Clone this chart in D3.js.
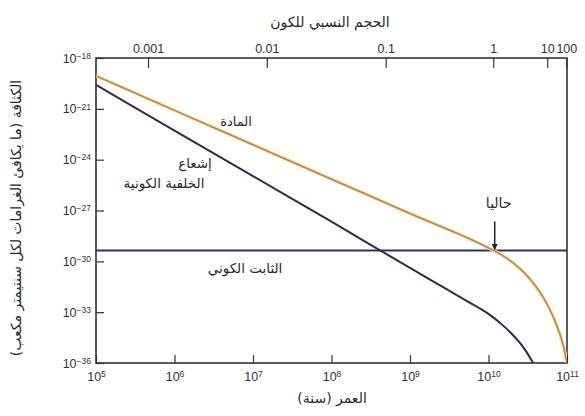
<!DOCTYPE html>
<html>
<head>
<meta charset="utf-8">
<script src="https://cdn.jsdelivr.net/npm/d3@7"></script>
<style>
  body { margin: 0; background: #fff; }
  .axis path { display: none; }
  .axis line { stroke: #333; stroke-width: 1.2; }
  .axis text { font-family: "Liberation Sans", Arial, sans-serif; font-size: 12.5px; fill: #333; }
  .ar { font-family: "DejaVu Sans", sans-serif; fill: #2a2a2a; }
</style>
</head>
<body>
<div id="chart"></div>
<script>
// Age of the universe (years) and density (g/cm3)
const matterAges = [1e5, 1e6, 1e7, 1e8, 1e9, 1e10, 1.5e10, 2e10, 3e10, 5e10, 7e10, 9e10, 1e11];
const matterDensity = [-19.06, -21.09, -23.12, -25.15, -27.18, -29.21, -29.65, -30.05, -30.78, -32.15, -33.5, -35.0, -36.0].map(e => Math.pow(10, e));

const radiationAges = [1e5, 1e6, 1e7, 1e8, 1e9, 3e9, 5e9, 1e10, 1.5e10, 2e10, 2.5e10, 3e10, 3.7e10];
const radiationDensity = [-19.59, -22.28, -24.97, -27.66, -30.39, -31.67, -32.27, -33.1, -33.75, -34.3, -34.8, -35.3, -36.0].map(e => Math.pow(10, e));

const lambdaDensity = 4.4e-30;
const nowAge = 1.2e10;

// Axis ticks
const ageTicks = [1e5, 1e6, 1e7, 1e8, 1e9, 1e10, 1e11];
const densityTicks = [1e-18, 1e-21, 1e-24, 1e-27, 1e-30, 1e-33, 1e-36];
const sizeLabels = ["0.001", "0.01", "0.1", "1", "10", "100"];
const sizeTickAges = [4.6e5, 1.5e7, 4.9e8, 1.15e10, 5.6e10, 9.8e10];

const width = 585, height = 416;
const margin = {top: 58, right: 18, bottom: 53, left: 96};

const svg = d3.select("#chart").append("svg")
    .attr("width", width)
    .attr("height", height);

const x = d3.scaleLog()
    .domain([1e5, 1e11])
    .range([margin.left, width - margin.right]);
const y = d3.scaleLog()
    .domain([1e-36, 1e-18])
    .range([height - margin.bottom, margin.top]);

svg.append("clipPath").attr("id", "plot-clip")
    .append("rect")
        .attr("x", margin.left)
        .attr("y", margin.top)
        .attr("width", width - margin.left - margin.right)
        .attr("height", height - margin.top - margin.bottom);

// Power-of-ten labels with superscripts
const powerLabel = function(d) {
    const e = Math.round(Math.log10(d));
    const t = d3.select(this).text("10");
    t.append("tspan")
        .attr("dy", "-0.45em")
        .attr("font-size", "8.5px")
        .text(e < 0 ? "\u2212" + (-e) : e);
};

// Bottom axis
svg.append("g")
    .attr("class", "axis")
    .attr("transform", `translate(0,${height - margin.bottom})`)
    .call(d3.axisBottom(x).tickValues(ageTicks).tickSize(-8).tickPadding(9).tickFormat(""))
    .selectAll(".tick text").each(powerLabel);

// Left axis
svg.append("g")
    .attr("class", "axis")
    .attr("transform", `translate(${margin.left},0)`)
    .call(d3.axisLeft(y).tickValues(densityTicks).tickSize(-8).tickPadding(5).tickFormat(""))
    .selectAll(".tick text").each(powerLabel);

// Top axis (relative size of the universe)
svg.append("g")
    .attr("class", "axis")
    .attr("transform", `translate(0,${margin.top})`)
    .call(d3.axisTop(x).tickValues(sizeTickAges).tickSize(-10).tickPadding(5)
        .tickFormat((d, i) => sizeLabels[i]))
    .selectAll(".tick text").attr("font-size", "13px");

// Frame
svg.append("rect")
    .attr("x", margin.left)
    .attr("y", margin.top)
    .attr("width", width - margin.left - margin.right)
    .attr("height", height - margin.top - margin.bottom)
    .attr("fill", "none")
    .attr("stroke", "#333")
    .attr("stroke-width", 1.6);

const plot = svg.append("g").attr("clip-path", "url(#plot-clip)");

const line = d3.line()
    .x(d => x(d[0]))
    .y(d => y(d[1]))
    .curve(d3.curveMonotoneX);

// Cosmological constant
plot.append("line")
    .attr("x1", x(1e5)).attr("x2", x(1e11))
    .attr("y1", y(lambdaDensity)).attr("y2", y(lambdaDensity))
    .attr("stroke", "#2b3370")
    .attr("stroke-width", 2);

// Radiation
plot.append("path")
    .datum(d3.zip(radiationAges, radiationDensity))
    .attr("d", line)
    .attr("fill", "none")
    .attr("stroke", "#3a2550")
    .attr("stroke-width", 2);

// Matter (light halo + core)
const matter = d3.zip(matterAges, matterDensity);
plot.append("path")
    .datum(matter)
    .attr("d", line)
    .attr("fill", "none")
    .attr("stroke", "#f8dcb0")
    .attr("stroke-width", 3.5);
plot.append("path")
    .datum(matter)
    .attr("d", line)
    .attr("fill", "none")
    .attr("stroke", "#c08640")
    .attr("stroke-width", 1.6);

// "Now" arrow
svg.append("defs").append("marker")
    .attr("id", "arrow")
    .attr("viewBox", "0 0 10 10")
    .attr("refX", 9).attr("refY", 5)
    .attr("markerWidth", 4).attr("markerHeight", 5)
    .attr("orient", "auto")
    .append("path")
        .attr("d", "M0,0L10,5L0,10Z")
        .attr("fill", "#222");
svg.append("line")
    .attr("x1", x(nowAge)).attr("x2", x(nowAge))
    .attr("y1", y(lambdaDensity) - 29).attr("y2", y(lambdaDensity) - 1)
    .attr("stroke", "#222")
    .attr("stroke-width", 1.5)
    .attr("marker-end", "url(#arrow)");

// Arabic labels
const label = (text, lx, ly, size) => svg.append("text")
    .attr("class", "ar")
    .attr("direction", "rtl")
    .attr("text-anchor", "middle")
    .attr("x", lx).attr("y", ly)
    .attr("font-size", size)
    .text(text);

label("حاليا", x(nowAge) + 4, y(lambdaDensity) - 42, "14px");
label("المادة", 236, 126, "13px");
label("إشعاع", 195, 168, "13.5px");
label("الخلفية الكونية", 164, 188, "13.5px");
label("الثابت الكوني", 245, 273, "13.5px");
label("الحجم النسبي للكون", 330, 27, "14px");
label("العمر (سنة)", 332, 403, "14px");

svg.append("text")
    .attr("class", "ar")
    .attr("direction", "rtl")
    .attr("text-anchor", "middle")
    .attr("font-size", "14px")
    .attr("transform", "translate(21,218) rotate(-90)")
    .text("الكثافة (ما يكافئ الغرامات لكل سنتيمتر مكعب)");
</script>
</body>
</html>
